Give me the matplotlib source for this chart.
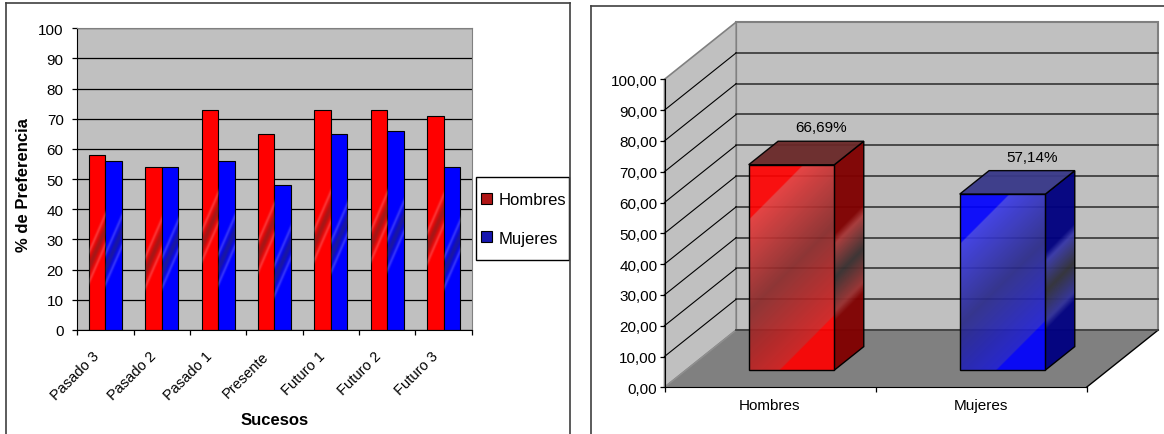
"""
Preferencia temporal por sexo: barras por suceso y promedio general en 3D.
"""

import numpy as np
import matplotlib
matplotlib.use("Agg")
import matplotlib.pyplot as plt
import matplotlib.transforms as mtransforms
from matplotlib.patches import Rectangle, Polygon, Patch
from matplotlib.lines import Line2D
from matplotlib.colors import to_rgb

plt.rcParams["font.family"] = ["Liberation Sans", "DejaVu Sans"]

# --- Data --------------------------------------------------------------------
sucesos = ["Pasado 3", "Pasado 2", "Pasado 1", "Presente",
           "Futuro 1", "Futuro 2", "Futuro 3"]
hombres = [58, 54, 73, 65, 73, 73, 71]
mujeres = [56, 54, 56, 48, 65, 66, 54]

sexos = ["Hombres", "Mujeres"]
promedio = [66.69, 57.14]

yticks = list(range(0, 101, 10))

# --- Figure ------------------------------------------------------------------
W, H = 1164, 435
fig = plt.figure(figsize=(W / 100, H / 100), dpi=100, facecolor="white")


def fx(px):
    return px / W


def fy(py):
    return 1 - py / H


def fig_line(xs, ys, **kw):
    fig.add_artist(Line2D([fx(v) for v in xs], [fy(v) for v in ys],
                          transform=fig.transFigure, zorder=10, **kw))


def band_overlay(ax, rect):
    """Dark diagonal band across the middle of a flat bar."""
    x0, y0 = rect.get_x(), rect.get_y()
    w, h = rect.get_width(), rect.get_height()
    (p0x, p0y), (p1x, p1y) = ax.transData.transform([(x0, y0), (x0 + w, y0 + h)])
    wpx, hpx = p1x - p0x, p1y - p0y
    nx, ny = int(wpx * 2) + 2, int(hpx * 2) + 2
    X, Y = np.meshgrid(np.linspace(0, wpx, nx), np.linspace(hpx, 0, ny))
    s = Y - 2.3 * (X - wpx / 2) - 0.47 * hpx
    dark = 0.45 * np.exp(-(s / 9.0) ** 2)
    light = 0.2 * np.exp(-((np.abs(s) - 15.0) / 3.5) ** 2)
    tot = dark + light + 1e-9
    rgb = (light[..., None] * 1.0 + dark[..., None] * np.array([0.22, 0.2, 0.2])) / tot[..., None]
    img = np.dstack([rgb, np.clip(dark + light, 0, 0.7)])
    im = ax.imshow(img, extent=(x0, x0 + w, y0, y0 + h), origin="upper",
                   aspect="auto", interpolation="bilinear", zorder=2.5)
    im.set_clip_path(rect)


def gradient_face(ax, verts, stops, zorder, alpha=1.0):
    """Fill a polygon with a diagonal (top-left to bottom-right) gradient."""
    verts = np.asarray(verts, dtype=float)
    x0, y0 = verts.min(0)
    x1, y1 = verts.max(0)
    (p0x, p0y), (p1x, p1y) = ax.transData.transform([(x0, y0), (x1, y1)])
    wpx, hpx = p1x - p0x, p1y - p0y
    nx, ny = int(wpx) + 2, int(hpx) + 2
    X, Yd = np.meshgrid(np.linspace(0, wpx, nx), np.linspace(0, hpx, ny))
    s = (X + Yd) / (wpx + hpx)
    pos = [p for p, _ in stops]
    cols = np.array([to_rgb(c) for _, c in stops])
    rgb = np.stack([np.interp(s, pos, cols[:, k]) for k in range(3)], axis=-1)
    img = np.dstack([rgb, np.full(s.shape, alpha)])
    clip = Polygon(verts, closed=True, fill=False, edgecolor="none")
    ax.add_patch(clip)
    im = ax.imshow(img, extent=(x0, x1, y0, y1), origin="upper", aspect="auto",
                   interpolation="bilinear", zorder=zorder)
    im.set_clip_path(clip)
    ax.add_patch(Polygon(verts, closed=True, fill=False, edgecolor="black",
                         linewidth=1.0, zorder=zorder + 0.1))


# --- Left: bars per event ----------------------------------------------------
ax1 = fig.add_axes([fx(77.3), fy(331), (471.7 - 77.3) / W, (331 - 29.3) / H])
ax1.set_facecolor("#C0C0C0")
ax1.set_xlim(-0.5, len(sucesos) - 0.5)
ax1.set_ylim(0, 100)

x = np.arange(len(sucesos))
bw = 0.293
bars_h = ax1.bar(x - bw / 2, hombres, bw, color="#FF0000", edgecolor="black",
                 linewidth=0.8, zorder=2)
bars_m = ax1.bar(x + bw / 2, mujeres, bw, color="#0000FF", edgecolor="black",
                 linewidth=0.8, zorder=2)
for rect in list(bars_h) + list(bars_m):
    band_overlay(ax1, rect)

ax1.set_yticks(yticks)
ax1.yaxis.grid(True, color="black", linewidth=0.9)
ax1.set_axisbelow(True)
ax1.tick_params(axis="y", length=3.3, width=0.9, pad=6.5, labelsize=11)

ax1.set_xticks(np.arange(-0.5, len(sucesos), 1.0))
ax1.set_xticklabels([])
ax1.set_xticks(x, minor=True)
ax1.set_xticklabels(sucesos, minor=True, rotation=45, ha="right", va="center",
                    rotation_mode="anchor", fontsize=10.5)
ax1.tick_params(axis="x", which="major", length=3.5, width=0.9)
ax1.tick_params(axis="x", which="minor", length=0, pad=17)
shift = mtransforms.ScaledTranslation(-0.08, 0, fig.dpi_scale_trans)
for lbl in ax1.get_xticklabels(minor=True):
    lbl.set_transform(lbl.get_transform() + shift)

for side in ("top", "right"):
    ax1.spines[side].set_color("#808080")
for side in ("left", "bottom"):
    ax1.spines[side].set_color("black")

ax1.set_xlabel("Sucesos", fontsize=12, fontweight="bold")
ax1.xaxis.set_label_coords(0.5, (331 - 413) / (331 - 29.3))
ax1.set_ylabel("% de Preferencia", fontsize=12, fontweight="bold")
ax1.yaxis.set_label_coords((31 - 77.3) / (471.7 - 77.3), 0.484)

# legend box
fig.add_artist(Rectangle((fx(475.7), fy(261)), (569.3 - 475.7) / W, (261 - 177.7) / H,
                         transform=fig.transFigure, facecolor="white",
                         edgecolor="black", linewidth=1.0, zorder=3))
handles = [Patch(facecolor="#B01616", edgecolor="black", linewidth=0.8),
           Patch(facecolor="#1616B0", edgecolor="black", linewidth=0.8)]
leg = fig.legend(handles, sexos, loc="center left", bbox_to_anchor=(fx(481), fy(220)),
                 frameon=False, fontsize=12, handlelength=0.66, handleheight=0.66,
                 handletextpad=0.38, labelspacing=1.4, borderpad=0, borderaxespad=0)
leg.set_zorder(4)

# panel frame
fig_line([6, 569.8], [4, 4], color="#404040", linewidth=1.2)
fig_line([6, 6], [4, 440], color="#404040", linewidth=1.2)
fig_line([569.8, 569.8], [4, 440], color="#404040", linewidth=1.2)

# --- Right: 3D average -------------------------------------------------------
ax2 = fig.add_axes([fx(591), 0, (W - 591) / W, 1])
ax2.patch.set_visible(False)
# x in category units (211 px each), y in value units (3.08 px each)
ax2.set_xlim((591 - 664.5) / 211, (W - 664.5) / 211)
ax2.set_ylim((388.3 - H) / 3.08, 388.3 / 3.08)

DX, DY = 0.34, 18.6          # oblique shift of full depth
D0, D1 = 0.30, 0.71          # bar depth span
HW = 0.203                   # bar half width
ncat = len(sexos)

ax2.add_patch(Polygon([(DX, DY), (ncat + DX, DY), (ncat + DX, 100 + DY), (DX, 100 + DY)],
                      facecolor="#C0C0C0", edgecolor="#808080", linewidth=1.5, zorder=1))
ax2.add_patch(Polygon([(0, 0), (DX, DY), (DX, 100 + DY), (0, 100)],
                      facecolor="#C0C0C0", edgecolor="#808080", linewidth=1.2, zorder=1))
ax2.add_patch(Polygon([(0, 0), (ncat, 0), (ncat + DX, DY), (DX, DY)],
                      facecolor="#808080", edgecolor="none", zorder=1.2))
ax2.plot([0, DX], [0, DY], color="#909090", linewidth=1.0, zorder=1.3)
ax2.plot([ncat, ncat + DX], [0, DY], color="black", linewidth=1.0, zorder=1.3)
ax2.plot([DX, ncat + DX], [DY, DY], color="#404040", linewidth=1.3, zorder=1.3)
for v in yticks[1:-1]:
    ax2.plot([DX, ncat + DX], [v + DY, v + DY], color="#404040", linewidth=1.3, zorder=1.1)
    ax2.plot([0, DX], [v, v + DY], color="black", linewidth=0.8, zorder=1.1)

red_front = [(0, "#FF0000"), (0.185, "#FF0000"), (0.19, "#E83A3A"), (0.5, "#8A2A2A"),
             (0.81, "#D42020"), (0.815, "#FF0000"), (1, "#FF0000")]
blue_front = [(0, "#0000FF"), (0.185, "#0000FF"), (0.19, "#3A3AE8"), (0.5, "#2A2A8A"),
              (0.81, "#2020D4"), (0.815, "#0000FF"), (1, "#0000FF")]
red_side = [(0, "#800000"), (0.36, "#800000"), (0.40, "#A83838"), (0.53, "#383030"),
            (0.66, "#983030"), (0.70, "#800000"), (1, "#800000")]
blue_side = [(0, "#000080"), (0.36, "#000080"), (0.40, "#3838A8"), (0.53, "#303038"),
             (0.66, "#303098"), (0.70, "#000080"), (1, "#000080")]
styles = [(red_front, red_side, "#6A2828"), (blue_front, blue_side, "#383888")]

dd = D1 - D0
for i, v in enumerate(promedio):
    c = i + 0.5
    front, side, top = styles[i]
    xl, xr = c - HW + D0 * DX, c + HW + D0 * DX
    yb, yt = D0 * DY, v + D0 * DY
    gradient_face(ax2, [(xr, yb), (xr + dd * DX, yb + dd * DY),
                        (xr + dd * DX, yt + dd * DY), (xr, yt)], side, zorder=3, alpha=0.96)
    ax2.add_patch(Polygon([(xl, yt), (xr, yt), (xr + dd * DX, yt + dd * DY),
                           (xl + dd * DX, yt + dd * DY)], facecolor=top,
                          edgecolor="black", linewidth=1.0, alpha=0.95, zorder=3.2))
    gradient_face(ax2, [(xl, yb), (xr, yb), (xr, yt), (xl, yt)], front, zorder=3.4, alpha=0.92)
    ax2.annotate(f"{v:.2f}%".replace(".", ","), xy=(c + D1 * DX, v + D1 * DY),
                 xytext=(0, 10), textcoords="offset points", ha="center", va="center",
                 fontsize=11, zorder=5)

for side in ("top", "right"):
    ax2.spines[side].set_visible(False)
ax2.spines["left"].set_position(("data", 0))
ax2.spines["left"].set_bounds(0, 100)
ax2.spines["bottom"].set_position(("data", 0))
ax2.spines["bottom"].set_bounds(0, ncat)
ax2.spines["left"].set_zorder(2)
ax2.spines["bottom"].set_zorder(2)
ax2.set_yticks(yticks)
ax2.set_yticklabels([f"{v:.2f}".replace(".", ",") for v in yticks])
ax2.tick_params(axis="y", length=5 * 0.72, width=0.9, pad=1.5, labelsize=11)
ax2.set_xticks(range(ncat + 1))
ax2.set_xticklabels([])
ax2.set_xticks(np.arange(ncat) + 0.5, minor=True)
ax2.set_xticklabels(sexos, minor=True, fontsize=11)
ax2.tick_params(axis="x", which="major", length=5 * 0.72, width=0.9)
ax2.tick_params(axis="x", which="minor", length=0, pad=8)

# panel frame
fig_line([591, W + 5], [7.3, 7.3], color="#404040", linewidth=1.2)
fig_line([591, 591], [7.3, 440], color="#404040", linewidth=1.2)

fig.savefig("out.png", dpi=100, facecolor="white")
